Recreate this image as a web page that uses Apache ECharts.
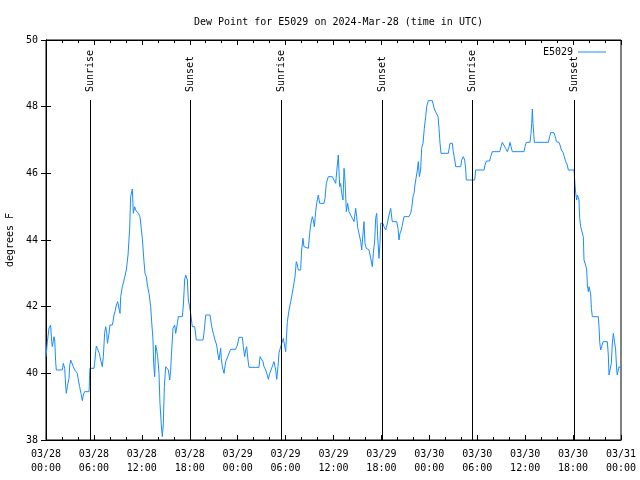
<!DOCTYPE html>
<html><head><meta charset="utf-8">
<script src="https://cdn.jsdelivr.net/npm/echarts@6/dist/echarts.min.js"></script>
<style>html,body{margin:0;padding:0;background:#fff}#c{width:640px;height:480px}</style>
</head><body><div id="c"></div>
<script>
// hours since 2024-03-28 00:00 UTC
const hours = [
0.0,0.17,0.38,0.58,0.71,0.79,1.0,1.09,1.21,1.29,2.04,2.17,2.34,2.46,2.54,2.67,2.88,2.96,3.09,3.3,
3.42,3.59,3.84,3.92,4.05,4.21,4.38,4.55,4.67,4.84,5.38,5.42,5.46,5.5,6.01,6.09,6.22,6.3,6.55,6.68,
6.84,7.05,7.18,7.26,7.34,7.47,7.59,7.7,7.89,8.01,8.3,8.39,8.51,8.64,8.81,8.97,9.14,9.27,9.35,9.56,
9.77,9.98,10.06,10.27,10.48,10.6,10.81,10.9,10.94,11.1,11.23,11.56,11.77,12.06,12.27,12.4,12.56,12.69,12.9,13.11,
13.23,13.4,13.48,13.61,13.73,13.86,13.98,14.15,14.27,14.44,14.57,14.69,14.82,14.99,15.19,15.32,15.49,15.61,15.74,15.9,
16.11,16.24,16.45,16.57,17.07,17.2,17.36,17.49,17.61,17.7,17.82,17.99,18.11,18.32,18.62,18.82,19.66,19.78,20.0,20.54,
20.75,20.95,21.16,21.37,21.54,21.66,21.87,21.95,22.08,22.29,22.5,22.71,22.92,23.12,23.75,23.96,24.17,24.58,24.71,24.88,
25.0,25.13,25.29,25.42,26.67,26.8,27.0,27.17,27.3,27.51,27.71,27.84,28.01,28.17,28.34,28.55,28.76,28.89,29.05,29.18,
29.39,29.59,29.72,29.89,30.01,30.22,30.43,30.64,30.84,31.05,31.18,31.34,31.47,31.59,31.89,32.01,32.18,32.3,32.51,32.85,
33.02,33.14,33.35,33.47,33.6,33.77,33.89,34.1,34.27,34.81,34.94,35.1,35.35,35.85,36.06,36.27,36.39,36.48,36.6,36.78,
36.9,37.02,37.19,37.32,37.44,37.61,37.77,37.94,38.15,38.36,38.57,38.78,38.9,39.03,39.19,39.41,39.53,39.82,39.94,40.11,
40.45,40.66,40.86,40.99,41.16,41.28,41.41,41.53,41.7,41.82,41.91,42.03,42.2,42.32,42.54,42.74,42.95,43.16,43.36,43.91,
44.08,44.2,44.33,44.49,44.62,44.83,45.45,45.66,45.79,45.96,46.08,46.2,46.37,46.5,46.62,46.75,46.91,47.04,47.21,47.37,
47.54,47.67,47.87,48.37,48.5,48.67,48.92,49.09,49.21,49.34,49.46,50.38,50.59,50.88,51.0,51.18,51.3,51.93,52.06,52.25,
52.43,52.56,52.63,53.68,53.8,54.85,54.97,55.14,55.56,55.68,55.89,56.81,56.98,57.14,57.35,57.56,57.77,57.98,58.1,58.23,
58.39,59.86,59.98,60.14,60.61,60.73,60.82,60.9,60.98,61.07,61.15,62.9,63.07,63.2,63.61,63.82,63.9,64.24,64.36,64.53,
64.74,64.9,65.07,65.28,65.4,66.12,66.24,66.33,66.45,66.54,66.66,66.74,66.83,66.95,67.16,67.28,67.37,67.58,67.7,67.79,
67.91,68.0,68.08,68.2,68.29,68.41,69.16,69.25,69.33,69.45,69.58,69.75,70.29,70.41,70.5,70.71,70.79,70.91,71.04,71.16,
71.33,71.46,71.54,71.66,71.75,72.0
];
const dewPoint = [
40.5,40.95,41.36,41.45,40.95,40.8,41.1,41.0,40.35,40.1,40.1,40.3,40.15,39.65,39.4,39.6,39.85,40.22,40.4,40.4,
40.2,40.1,40.1,40.0,39.8,39.6,39.4,39.18,39.35,39.45,39.45,39.6,39.95,40.15,40.15,40.3,40.65,40.82,40.82,40.6,
40.4,40.2,40.5,40.85,41.2,41.4,41.25,40.9,41.2,41.45,41.45,41.55,41.75,41.85,42.05,42.15,42.1,41.8,42.3,42.6,
42.8,42.8,43.1,43.55,44.36,45.3,45.53,45.0,44.8,45.0,44.9,44.8,44.7,44.05,43.35,43.0,42.9,42.65,42.4,42.0,
41.55,41.0,40.3,39.9,40.85,40.7,40.5,40.0,39.1,38.45,38.1,38.5,39.6,40.2,40.2,40.1,39.8,40.1,40.7,41.35,
41.45,41.2,41.5,41.7,41.7,42.05,42.8,42.95,43.0,42.8,42.2,42.0,41.8,41.4,41.4,41.0,41.0,41.2,41.75,41.75,
41.4,41.2,41.0,40.85,40.55,40.4,40.75,40.45,40.2,40.0,40.35,40.4,40.6,40.72,40.72,40.85,41.08,41.08,40.8,40.5,
40.7,40.8,40.4,40.18,40.18,40.5,40.5,40.35,40.2,40.1,39.95,39.82,40.0,40.1,40.1,40.35,40.1,39.82,40.2,40.62,
40.8,40.8,41.05,41.1,40.65,41.55,41.9,42.15,42.4,42.7,42.9,43.35,43.25,43.1,43.1,43.7,44.05,43.8,43.75,43.75,
44.2,44.45,44.7,44.6,44.4,44.85,45.1,45.35,45.1,45.1,45.25,45.7,45.9,45.9,45.8,45.7,45.75,46.25,46.55,45.6,
45.7,45.4,45.2,46.15,45.8,44.85,45.1,44.85,44.75,44.65,44.55,44.95,44.7,44.38,44.2,43.95,43.7,44.55,43.9,43.75,
43.7,43.45,43.2,43.6,44.0,44.65,44.8,44.1,43.45,43.9,44.5,44.55,44.5,44.4,44.3,44.5,44.75,44.95,44.55,44.55,
44.35,44.0,44.2,44.3,44.35,44.7,44.7,44.8,44.95,45.3,45.4,45.65,45.65,46.1,46.35,45.9,46.1,46.75,46.9,47.35,
47.7,48.0,48.18,48.18,48.05,47.9,47.85,47.7,47.35,46.9,46.6,46.6,46.9,46.9,46.65,46.4,46.2,46.2,46.4,46.5,
46.4,46.1,45.8,45.8,46.1,46.1,46.25,46.37,46.37,46.5,46.65,46.65,46.8,46.93,46.93,46.75,46.65,46.8,46.93,46.8,
46.65,46.65,46.8,46.93,46.93,47.2,47.5,47.93,47.5,47.2,46.93,46.93,47.1,47.22,47.22,47.05,46.95,46.93,46.85,46.7,
46.63,46.5,46.35,46.25,46.1,46.1,45.65,45.4,45.2,45.35,45.3,45.2,44.65,44.4,44.35,44.1,43.4,43.4,43.13,42.65,
42.45,42.6,42.5,42.4,41.95,41.7,41.7,41.4,40.95,40.7,40.8,40.95,40.95,40.55,39.95,39.95,40.3,40.88,41.2,41.0,
40.7,40.1,39.95,40.1,40.2,40.15
];
const sunEventHours = [5.55, 18.06, 29.43, 42.11, 53.38, 66.2];
const sunEventNames = ['Sunrise', 'Sunset', 'Sunrise', 'Sunset', 'Sunrise', 'Sunset'];
const sunLineTop = 48.2;
const dayLabels = ['03/28', '03/29', '03/30', '03/31'];
const seriesName = 'E5029';
const titleText = 'Dew Point for E5029 on 2024-Mar-28 (time in UTC)';
const yName = 'degrees F';

const FONT = 'DejaVu Sans Mono';
const LINE_COLOR = '#1a8cff';

function fmtX(h) {
  const d = Math.floor(h / 24 + 1e-9);
  const hh = Math.round(h - d * 24);
  return dayLabels[d] + '\n' + String(hh).padStart(2, '0') + ':00';
}

const seriesData = hours.map((h, i) => [h, dewPoint[i]]);

const markData = [];
sunEventHours.forEach((h, i) => {
  markData.push([{ coord: [h, 38] }, { coord: [h, sunLineTop] }]);
  markData.push([
    { coord: [h, sunLineTop], lineStyle: { color: 'rgba(0,0,0,0)', width: 0 },
      label: { show: true, formatter: sunEventNames[i], position: 'insideStart', distance: 8,
               color: '#000', opacity: 1, fontFamily: FONT, fontSize: 10 } },
    { coord: [h, 50] }
  ]);
});

const tickCommon = {
  axisLine: { show: true, lineStyle: { color: '#000', width: 1 } },
  axisTick: { show: true, inside: true, length: 5, lineStyle: { color: '#000' } },
  splitLine: { show: false }
};

const chart = echarts.init(document.getElementById('c'), null, { renderer: 'canvas' });
chart.setOption({
  animation: false,
  backgroundColor: '#fff',
  title: {
    text: titleText, left: 189, top: 12,
    textStyle: { fontFamily: FONT, fontSize: 10, fontWeight: 'normal', color: '#000' }
  },
  legend: {
    data: [seriesName], right: 29, top: 42, align: 'right',
    icon: 'rect', itemWidth: 28, itemHeight: 1,
    textStyle: { fontFamily: FONT, fontSize: 10, color: '#000' }
  },
  grid: { left: 46, right: 19, top: 40, bottom: 40, show: true, borderColor: '#000', borderWidth: 1,
          containLabel: false, outerBoundsMode: 'none' },
  xAxis: [
    Object.assign({
      type: 'value', min: 0, max: 72, interval: 6, position: 'bottom',
      minorTick: { show: true, splitNumber: 3, length: 3, lineStyle: { color: '#000' } },
      axisLabel: { formatter: fmtX, fontFamily: FONT, fontSize: 10, color: '#000', lineHeight: 14, margin: 7,
                   showMinLabel: true, showMaxLabel: true, hideOverlap: false }
    }, tickCommon),
    Object.assign({
      type: 'value', min: 0, max: 72, interval: 6, position: 'top',
      minorTick: { show: true, splitNumber: 3, length: 3, lineStyle: { color: '#000' } },
      axisLabel: { show: false }
    }, tickCommon)
  ],
  yAxis: [
    Object.assign({
      type: 'value', min: 38, max: 50, interval: 2, position: 'left',
      name: yName, nameLocation: 'middle', nameGap: 31, nameRotate: 90,
      nameTextStyle: { fontFamily: FONT, fontSize: 10, color: '#000' },
      axisLabel: { fontFamily: FONT, fontSize: 10, color: '#000', margin: 8 }
    }, tickCommon),
    Object.assign({
      type: 'value', min: 38, max: 50, interval: 2, position: 'right',
      axisLabel: { show: false }
    }, tickCommon)
  ],
  series: [{
    name: seriesName, type: 'line', xAxisIndex: 0, yAxisIndex: 0,
    data: seriesData, showSymbol: false, symbol: 'none',
    lineStyle: { color: LINE_COLOR, width: 1 }, itemStyle: { color: LINE_COLOR },
    markLine: {
      silent: true, symbol: ['none', 'none'], animation: false,
      lineStyle: { color: '#000', width: 1, type: 'solid' },
      label: { show: false, color: '#000', fontFamily: FONT, fontSize: 10 },
      emphasis: { disabled: true },
      data: markData
    }
  }]
});
</script>
</body></html>
